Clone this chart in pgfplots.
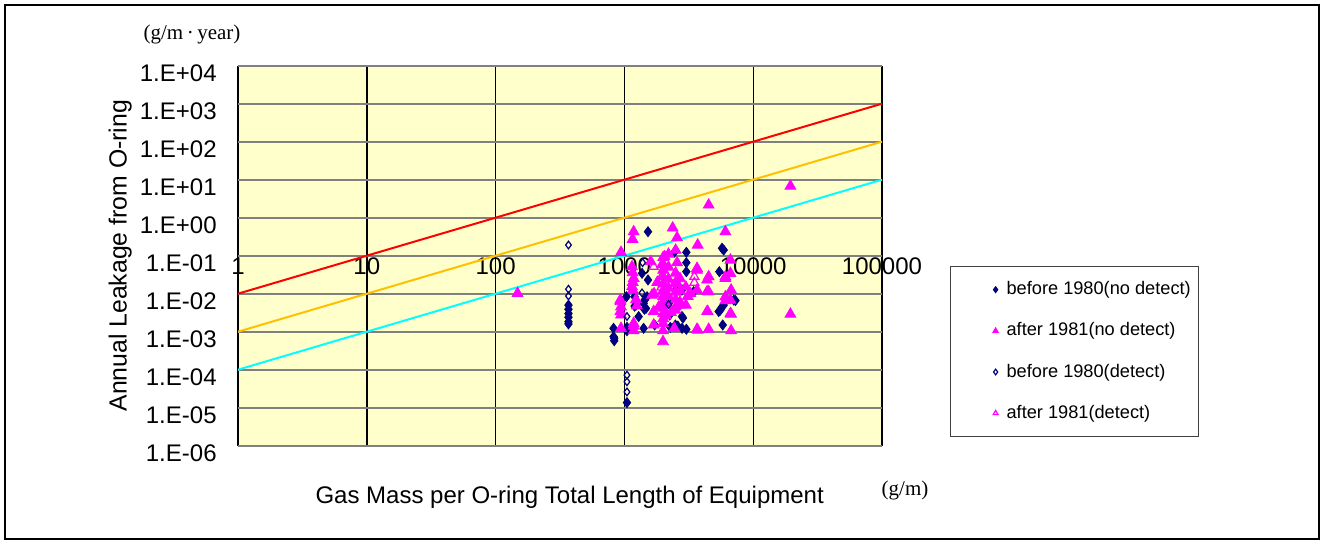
\documentclass[border=0pt]{standalone}
\usepackage{fontspec}
\setmainfont{Liberation Sans}
\newfontfamily\seriffont{Liberation Serif}
\usepackage{pgfplots}
\pgfplotsset{compat=1.18}
\definecolor{navyc}{RGB}{0,0,128}
\definecolor{magc}{RGB}{255,0,255}
\definecolor{bgyellow}{RGB}{255,255,204}
\definecolor{orangec}{RGB}{255,192,0}
\definecolor{cyanc}{RGB}{0,255,255}
\definecolor{gridgray}{RGB}{128,128,128}
\definecolor{legframe}{RGB}{64,64,64}
\begin{document}
\begin{tikzpicture}
\useasboundingbox (0,0) rectangle (662pt,272pt);
\draw[line width=1.2pt] (2.6pt,2.6pt) rectangle (659.4pt,269.4pt);
\begin{axis}[
  at={(119pt,49.15pt)}, anchor=south west,
  scale only axis, width=322pt, height=190pt,
  xmode=log, ymode=log,
  xmin=1, xmax=100000, ymin=1e-6, ymax=1e4,
  clip mode=individual,
  xtick={1,10,100,1000,10000,100000},
  xticklabels={1,10,100,1000,10000,100000},
  ytick={1e-6,1e-5,1e-4,1e-3,1e-2,1e-1,1,10,100,1000,10000},
  yticklabels={1.E-06,1.E-05,1.E-04,1.E-03,1.E-02,1.E-01,1.E+00,1.E+01,1.E+02,1.E+03,1.E+04},
  xminorticks=false, yminorticks=false,
  grid=major,
  x grid style={black, line width=0.7pt},
  y grid style={gridgray, line width=1pt},
  axis line style={draw=none},
  major tick length=0pt,
  axis background/.style={fill=bgyellow},
  tick label style={font=\fontsize{12}{14}\selectfont},
  xticklabel style={anchor=north, inner sep=0pt, yshift=94.3pt},
  yticklabel style={anchor=east, inner sep=0pt, xshift=-10.5pt, yshift=-4pt},
  xlabel={Gas Mass per O-ring Total Length of Equipment},
  xlabel style={at={(rel axis cs:0.515,-0.135)}, anchor=center, font=\fontsize{12}{14}\selectfont},
  ylabel={Annual Leakage from O-ring},
  ylabel style={at={(rel axis cs:-0.183,0.5)}, anchor=center, font=\fontsize{12.4}{14}\selectfont},
  legend style={at={(rel axis cs:1.1056,0.473)}, anchor=north west, draw=legframe, line width=0.6pt,
    font=\fontsize{9.1}{11}\selectfont, row sep=8.5pt, inner xsep=2pt, inner ysep=5.5pt,
    cells={anchor=west}},
  legend image code/.code={\path[draw=none,fill=none] (0pt,0pt) -- (24pt,0pt); \draw[#1,mark size=1.4pt] plot coordinates {(20.5pt,0pt)};},
]
% reference lines (not in legend)
\addplot[red, line width=1pt, forget plot] coordinates {(1,0.01) (100000,1000)};
\addplot[orangec, line width=1pt, forget plot] coordinates {(1,0.001) (100000,100)};
\addplot[cyanc, line width=1pt, forget plot] coordinates {(1,0.0001) (100000,10)};

% before 1980 (no detect)
\addplot[only marks, mark=diamond*, mark size=2.5pt, color=navyc] table {
x y
368 0.0050
368 0.0039
368 0.0030
368 0.0024
368 0.00183
368 0.0016
824 0.00123
834 0.00067
834 0.00058
824 0.00074
1047 0.0000136
1525 0.428
2442 0.123
3027 0.123
3027 0.0655
3027 0.038
1525 0.0230
1371 0.0344
5460 0.038
5729 0.157
5900 0.141
2563 0.0139
2803 0.0125
3252 0.0102
3450 0.0113
1035 0.0083
1200 0.0083
1230 0.0050
1435 0.0068
1500 0.0083
1410 0.0056
1470 0.0041
1290 0.0025
1200 0.0047
1428 0.0039
2205 0.0056
2245 0.00275
2800 0.0025
2850 0.0023
5398 0.0034
5559 0.0037
5729 0.0045
5900 0.0050
7063 0.0068
7278 0.0066
1047 0.0013
1047 0.00106
1410 0.00123
1718 0.0015
2274 0.0013
2486 0.0015
2600 0.0014
2803 0.00123
3027 0.00116
5797 0.0015
};
\addlegendentry{before 1980(no detect)}

% after 1981 (no detect)
\addplot[only marks, mark=triangle*, mark size=3.1pt, color=magc] table {
x y
148 0.0102
4511 2.16
19460 6.8
19460 0.0029
1180 0.428
1158 0.27
2370 0.536
2563 0.298
6081 0.428
3706 0.191
941 0.123
2053 0.094
2563 0.0655
1146 0.0514
1160 0.036
1180 0.0254
1146 0.0153
1160 0.020
1160 0.0125
3664 0.042
3664 0.0466
4385 0.023
4511 0.028
6081 0.0254
6081 0.028
6652 0.0344
6652 0.077
2563 0.0188
3664 0.0125
3252 0.0102
4385 0.0113
4511 0.0113
929 0.0068
930 0.0062
940 0.0045
930 0.0034
941 0.00275
1687 0.0034
2638 0.0050
2486 0.0037
4385 0.0034
4433 0.0034
6652 0.0030
6733 0.0029
6081 0.0083
6081 0.0066
6652 0.0068
6733 0.0125
941 0.00123
1180 0.0014
1180 0.00106
1180 0.00166
1995 0.00166
1995 0.00106
1995 0.00055
2442 0.00123
3664 0.00116
3706 0.0011
4511 0.00116
6733 0.00106
1687 0.0015
1640 0.0092
1700 0.0100
1600 0.07
2000 0.09
2000 0.060
2000 0.042
2000 0.028
2000 0.018
2000 0.012
2000 0.0085
2000 0.0060
2000 0.0042
2000 0.0030
2000 0.0022
2200 0.11
2200 0.050
2200 0.024
2200 0.014
2200 0.0085
2200 0.0050
2500 0.14
2500 0.035
2500 0.020
2500 0.011
2500 0.0070
2500 0.0045
2700 0.025
2700 0.012
2700 0.0060
2300 0.0032
2100 0.0027
1250 0.0048
1230 0.0070
1800 0.020
1850 0.0045
3000 0.0150
3100 0.0085
3000 0.0050
};
\addlegendentry{after 1981(no detect)}

% before 1980 (detect)
\addplot[only marks, mark=diamond, mark size=1.9pt, color=navyc, mark options={line width=0.6pt}] table {
x y
368 0.191
368 0.0131
368 0.0087
1047 0.000072
1047 0.000048
1047 0.000026
1385 0.0655
1047 0.0083
1371 0.0105
1047 0.0025
2205 0.0052
};
\addlegendentry{before 1980(detect)}

% after 1981 (detect)
\addplot[only marks, mark=triangle, mark size=2.6pt, color=magc, mark options={line width=0.6pt}] table {
x y
1687 0.0514
1940 0.057
2010 0.042
1940 0.028
1940 0.021
1940 0.0147
2010 0.0125
3492 0.028
3492 0.0195
};
\addlegendentry{after 1981(detect)}

\node[font=\seriffont\fontsize{10.5}{12}\selectfont] at (rel axis cs:-0.0714,1.081) {(g/m\,·\,year)};
\node[font=\seriffont\fontsize{10.5}{12}\selectfont] at (rel axis cs:1.0357,-0.119) {(g/m)};
\end{axis}
\end{tikzpicture}
\end{document}
